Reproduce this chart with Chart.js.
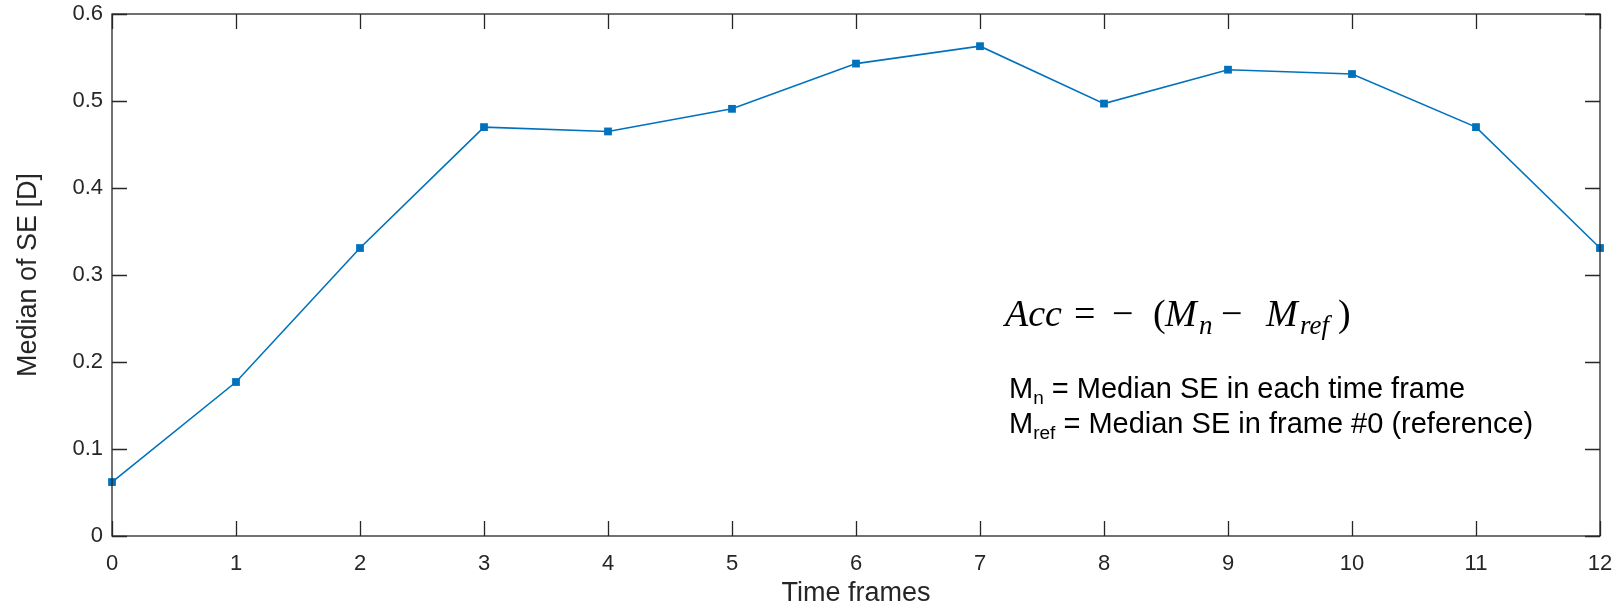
<!DOCTYPE html>
<html>
<head>
<meta charset="utf-8">
<script src="https://cdn.jsdelivr.net/npm/chart.js@4.4.0/dist/chart.umd.min.js"></script>
<style>
  html, body { margin: 0; padding: 0; background: #fff; }
</style>
</head>
<body>
<canvas id="chart" width="1620" height="607"></canvas>
<script>
// data
const frames = [0, 1, 2, 3, 4, 5, 6, 7, 8, 9, 10, 11, 12];
const medianSE = [0.062, 0.177, 0.331, 0.470, 0.465, 0.491, 0.543, 0.563, 0.497, 0.536, 0.531, 0.470, 0.331];
const yTicks = [0, 0.1, 0.2, 0.3, 0.4, 0.5, 0.6];

const blue = '#0072BD';
const axisColor = '#262626';
const sans = '"Liberation Sans", Arial, Helvetica, sans-serif';
const serif = '"Liberation Serif", "DejaVu Serif", serif';

// matlab-like box with inward ticks
const boxTicks = {
    id: 'boxTicks',
    afterDatasetsDraw(chart) {
        const {ctx, chartArea: a, scales: {x, y}} = chart;
        const len = 15;
        ctx.save();
        ctx.strokeStyle = axisColor;
        ctx.lineWidth = 1.3;
        ctx.strokeRect(a.left, a.top, a.right - a.left, a.bottom - a.top);
        ctx.beginPath();
        frames.forEach(f => {
            const px = Math.round(x.getPixelForValue(f)) + 0.5;
            ctx.moveTo(px, a.bottom); ctx.lineTo(px, a.bottom - len);
            ctx.moveTo(px, a.top); ctx.lineTo(px, a.top + len);
        });
        yTicks.forEach(v => {
            const py = Math.round(y.getPixelForValue(v)) + 0.5;
            ctx.moveTo(a.left, py); ctx.lineTo(a.left + len, py);
            ctx.moveTo(a.right, py); ctx.lineTo(a.right - len, py);
        });
        ctx.stroke();
        ctx.restore();
    }
};

// draw a run of text pieces one after another
function runs(ctx, x, y, parts) {
    parts.forEach(p => {
        ctx.font = p.font;
        ctx.fillText(p.t, x, y + (p.dy || 0));
        x += ctx.measureText(p.t).width + (p.gap || 0);
    });
}

const formula = {
    id: 'formula',
    afterDraw(chart) {
        const ctx = chart.ctx;
        ctx.save();
        ctx.fillStyle = '#000';
        ctx.textBaseline = 'alphabetic';
        const it = 'italic 38px ' + serif;
        const up = '38px ' + serif;
        const sub = 'italic 27px ' + serif;
        const base = 326;
        [
            {t: 'Acc', font: it, x: 1005},
            {t: '=', font: up, x: 1074},
            {t: '\u2212', font: up, x: 1112},
            {t: '(', font: up, x: 1153},
            {t: 'M', font: it, x: 1165},
            {t: 'n', font: sub, x: 1199, dy: 8},
            {t: '\u2212', font: up, x: 1221},
            {t: 'M', font: it, x: 1266},
            {t: 'ref', font: sub, x: 1300, dy: 8},
            {t: ')', font: up, x: 1338}
        ].forEach(p => {
            ctx.font = p.font;
            ctx.fillText(p.t, p.x, base + (p.dy || 0));
        });
        const t = '29px ' + sans;
        const s = '19px ' + sans;
        runs(ctx, 1009, 398, [
            {t: 'M', font: t},
            {t: 'n', font: s, dy: 6},
            {t: ' = Median SE in each time frame', font: t}
        ]);
        runs(ctx, 1009, 433, [
            {t: 'M', font: t},
            {t: 'ref', font: s, dy: 6},
            {t: ' = Median SE in frame #0 (reference)', font: t}
        ]);
        ctx.restore();
    }
};

new Chart(document.querySelector('#chart'), {
    type: 'line',
    data: {
        labels: frames,
        datasets: [{
            data: frames.map((f, i) => ({x: f, y: medianSE[i]})),
            borderColor: blue,
            backgroundColor: blue,
            borderWidth: 1.6,
            pointStyle: 'rect',
            pointRadius: 5.5,
            pointBorderWidth: 0,
            tension: 0,
            clip: false
        }]
    },
    options: {
        responsive: false,
        animation: false,
        devicePixelRatio: 1,
        layout: { padding: { left: 0, top: 14, right: 20, bottom: 0 } },
        plugins: { legend: { display: false }, tooltip: { enabled: false } },
        scales: {
            x: {
                type: 'linear',
                min: 0, max: 12,
                grid: { display: false, drawTicks: false },
                border: { display: false },
                ticks: {
                    stepSize: 1, padding: 15, color: axisColor, maxRotation: 0,
                    font: { family: sans, size: 22 }
                },
                title: {
                    display: true, text: 'Time frames', color: axisColor,
                    font: { family: sans, size: 27, lineHeight: 1 }, padding: { top: 0, bottom: 0 }
                },
                afterFit(scale) {
                    scale.height = 71;
                    scale.paddingLeft = 0;
                    scale.paddingRight = 0;
                }
            },
            y: {
                min: 0, max: 0.6,
                grid: { display: false, drawTicks: false },
                border: { display: false },
                ticks: {
                    stepSize: 0.1, padding: 9, color: axisColor,
                    font: { family: sans, size: 22 },
                    callback: v => String(Math.round(v * 10) / 10)
                },
                title: {
                    display: true, text: 'Median of SE [D]', color: axisColor,
                    font: { family: sans, size: 27 }, padding: { top: 12, bottom: 0 }
                },
                afterFit(scale) {
                    scale.width = 112;
                    scale.paddingTop = 0;
                    scale.paddingBottom = 0;
                }
            }
        }
    },
    plugins: [boxTicks, formula]
});
</script>
</body>
</html>
